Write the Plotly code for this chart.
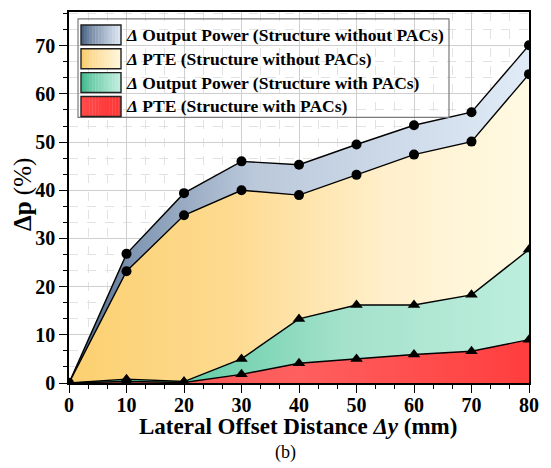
import plotly.graph_objects as go

# Lateral offset (mm) and percentage drops
offset_mm = [0, 10, 20, 30, 40, 50, 60, 70, 80]
dp_power_without = [0, 26.8, 39.4, 46.0, 45.3, 49.5, 53.5, 56.2, 70.1]
dp_pte_without = [0, 23.2, 34.8, 40.0, 39.0, 43.2, 47.4, 50.1, 64.1]
dp_power_with = [0, 0.8, 0.3, 5.0, 13.3, 16.2, 16.2, 18.3, 27.7]
dp_pte_with = [0, 0.3, 0.1, 1.8, 4.1, 5.0, 5.9, 6.6, 9.0]

legend_labels = [
    "<i>Δ</i> Output Power (Structure without PACs)",
    "<i>Δ</i> PTE (Structure without PACs)",
    "<i>Δ</i> Output Power (Structure with PACs)",
    "<i>Δ</i> PTE (Structure with PACs)",
]

# Fill colour ramps (left -> right)
ramps = [
    [[0, "#3e5679"], [0.14, "#8096b2"], [0.4, "#bac8da"], [1, "#e0ebf7"]],
    [[0, "#fcd070"], [0.35, "#fdda8f"], [0.7, "#fff0cd"], [1, "#fffae2"]],
    [[0, "#3bba8c"], [0.3, "#6ccfab"], [0.6, "#a4e2cc"], [1, "#bdeedd"]],
    [[0, "#ec5050"], [0.5, "#ff5f5f"], [1, "#ff3e3e"]],
]
series = [dp_power_without, dp_pte_without, dp_power_with, dp_pte_with]
symbols = ["circle", "circle", "triangle-up", "triangle-up"]

serif = "Times New Roman, Liberation Serif, serif"

fig = go.Figure()
for vals, ramp, sym in zip(series, ramps, symbols):
    fig.add_trace(go.Scatter(
        x=offset_mm, y=vals, mode="lines+markers", fill="tozeroy",
        fillgradient=dict(type="horizontal", colorscale=ramp),
        line=dict(color="black", width=1.4),
        marker=dict(symbol=sym, size=10 if sym == "circle" else 11, color="black"),
        showlegend=False,
    ))

# Legend drawn as a bordered box with shaded swatches
L, R, T, B = 69, 529, 10, 383


def px(xp):
    return (xp - L) / (R - L)


def py(yp):
    return (B - yp) / (B - T)


def lerp_hex(c1, c2, t):
    a = [int(c1[i:i + 2], 16) for i in (1, 3, 5)]
    b = [int(c2[i:i + 2], 16) for i in (1, 3, 5)]
    return "#" + "".join(f"{round(a[k] + (b[k] - a[k]) * t):02x}" for k in range(3))


swatch_ends = [("#3a5478", "#dde7f3"), ("#fbc964", "#fff6da"),
               ("#36b487", "#c2efdf"), ("#ff4d4d", "#ff3636")]
shapes = [dict(type="rect", xref="paper", yref="paper",
               x0=px(78), x1=px(449), y0=py(116), y1=py(17),
               line=dict(color="#7a7a7a", width=1.2), fillcolor="rgba(0,0,0,0)")]
annotations = []
row_top = [23, 47, 71, 95]
n_strips = 14
for (c1, c2), top, label in zip(swatch_ends, row_top, legend_labels):
    x0s, x1s = 81, 121
    w = (x1s - x0s) / n_strips
    for k in range(n_strips):
        t = (k + 0.5) / n_strips
        shapes.append(dict(type="rect", xref="paper", yref="paper",
                           x0=px(x0s + k * w), x1=px(x0s + (k + 1) * w + 0.3),
                           y0=py(top + 20), y1=py(top),
                           line=dict(width=0), fillcolor=lerp_hex(c1, c2, t ** 0.7)))
    shapes.append(dict(type="rect", xref="paper", yref="paper",
                       x0=px(x0s), x1=px(x1s), y0=py(top + 20), y1=py(top),
                       line=dict(color="#222222", width=1.4), fillcolor="rgba(0,0,0,0)"))
    annotations.append(dict(xref="paper", yref="paper", x=px(124), y=py(top + 10),
                            xanchor="left", yanchor="middle", showarrow=False,
                            text=f"<b>{label}</b>",
                            font=dict(family=serif, size=17.5, color="black")))

# Axis titles and panel tag
annotations.append(dict(xref="paper", yref="paper", x=px(298), y=py(427),
                        xanchor="center", yanchor="middle", showarrow=False,
                        text="<b>Lateral Offset Distance <i>Δy</i> (mm)</b>",
                        font=dict(family=serif, size=23, color="black")))
annotations.append(dict(xref="paper", yref="paper", x=px(23), y=py(194),
                        xanchor="center", yanchor="middle", showarrow=False,
                        textangle=-90, text="<b>Δp</b> (%)",
                        font=dict(family=serif, size=25, color="black")))
annotations.append(dict(xref="paper", yref="paper", x=px(285), y=py(453),
                        xanchor="center", yanchor="middle", showarrow=False,
                        text="(b)", font=dict(family=serif, size=18, color="black")))

axis_common = dict(
    showline=True, linecolor="black", linewidth=1.5, mirror=True,
    ticks="outside", ticklen=8, tickwidth=1.3, tickcolor="black",
    showgrid=True, gridcolor="#cfcfcf", gridwidth=1, zeroline=False,
    tickfont=dict(family=serif, size=20, color="black"),
    minor=dict(dtick=10 / 3, ticks="outside", ticklen=4, tickwidth=1.2,
               tickcolor="black", showgrid=True, gridcolor="#e2e2e2",
               griddash="dash", gridwidth=1),
)

fig.update_layout(
    width=551, height=468,
    margin=dict(l=L, r=551 - R, t=T, b=468 - B),
    paper_bgcolor="white", plot_bgcolor="white",
    shapes=shapes, annotations=annotations,
    xaxis=dict(range=[0, 80], tickvals=[0, 10, 20, 30, 40, 50, 60, 70, 80],
               ticktext=["<b>%d</b>" % v for v in range(0, 81, 10)],
               ticklabelstandoff=-5,
               **axis_common),
    yaxis=dict(range=[0, 77], tickvals=[0, 10, 20, 30, 40, 50, 60, 70],
               ticktext=["<b>%d</b>" % v for v in range(0, 71, 10)],
               **axis_common),
)

fig.write_html("out.html")
